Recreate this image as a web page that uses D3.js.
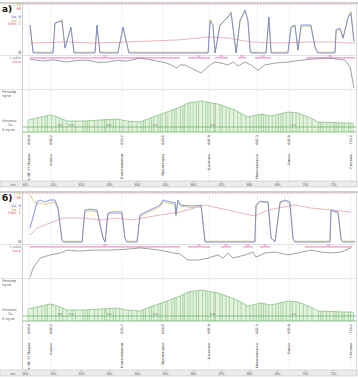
<!DOCTYPE html>
<html>
<head>
<meta charset="utf-8">
<script src="https://cdn.jsdelivr.net/npm/d3@7"></script>
<style>
  body { margin: 0; background: #fff; }
  svg { display: block; font-family: "DejaVu Sans", sans-serif; }
</style>
</head>
<body>
<svg id="vis" width="358" height="378"></svg>
<script>
// ---- data ----
const tickKm = [600, 610, 620, 630, 640, 650, 660, 670, 680, 690, 700, 710];

const stationKm = [601.4, 609.3, 634.6, 649.3, 665.7, 682.9, 694.3, 716.4];
const stationNames = ["ст. НГ 77 Падин", "Азовск", "Каменоломни", "Пролетарка", "Шахтная", "Новочеркасск", "Лихая", "Степная"];
const stationPk = ["600.0", "608.2", "633.7", "648.5", "665.0", "682.3", "693.8", "716.2"];

// profile of the track (same for both runs)
const profileKm = [601.1, 608.9, 610.7, 615.0, 620.7, 626.8, 632.9, 636.4, 641.1, 644.6, 650.7, 655.4, 658.2, 662.9, 668.9, 675.0, 679.6, 684.3, 687.9, 693.9, 697.5, 702.1, 704.6, 714.3, 717.1];
const profileH = [60, 85, 80, 55, 55, 60, 65, 55, 50, 70, 100, 125, 145, 155, 140, 110, 75, 90, 80, 100, 95, 70, 50, 45, 45];
const elementKm = [601.1, 603.0, 604.5, 606.0, 607.2, 608.0, 609.5, 611.0, 612.3, 613.5, 615.0, 616.8, 618.0, 620.7, 621.5, 622.3, 623.0, 624.8, 626.0, 627.5, 628.4, 629.0, 630.3, 631.5, 632.4, 633.8, 635.0, 636.9, 638.2, 640.0, 641.5, 642.3, 643.0, 644.4, 645.2, 646.0, 647.5, 648.3, 649.0, 650.2, 651.0, 652.4, 653.3, 654.0, 655.5, 656.4, 657.0, 658.2, 659.0, 660.1, 661.2, 662.0, 663.4, 664.5, 665.3, 666.2, 667.5, 668.0, 669.6, 670.4, 671.8, 673.0, 674.5, 676.0, 677.2, 678.9, 680.3, 681.5, 682.6, 683.5, 684.4, 685.2, 686.0, 687.0, 688.3, 689.6, 690.5, 691.4, 692.2, 693.3, 694.6, 695.5, 696.8, 698.0, 699.4, 700.8, 702.5, 704.8, 705.6, 706.4, 707.7, 708.9, 710.3, 711.1, 712.0, 713.2, 714.0, 715.5, 716.3, 717.3];
const slopeKm = [612.5, 616.5, 630.0, 646.5, 667.0, 696.0];
const slopeText = ["3.6", "5.0", "3.0", "2.4", "1.8", "2.1"];

// run a)
const speedBlueA = [[601.8,70],[602.9,0],[610.0,0],[610.7,75],[613.2,80],[614.3,12],[616.4,65],[617.5,0],[625.0,0],[625.7,70],[626.8,0],[633.2,0],[635.0,65],[637.1,0],[665.4,0],[666.1,80],[667.1,70],[667.9,0],[669.6,70],[672.5,90],[673.6,100],[675.4,0],[676.8,82],[678.6,108],[679.6,82],[680.4,8],[680.7,0],[686.1,0],[687.1,90],[687.9,0],[693.9,0],[695.0,65],[696.4,70],[697.5,8],[698.6,70],[700.4,70],[702.1,70],[703.6,15],[704.6,0],[710.7,0],[711.1,58],[712.5,62],[713.6,38],[715.4,88],[716.4,100],[717.5,28]];
const speedYellowA = [[601.8,68],[602.9,2],[610.0,2],[610.7,72],[613.2,84],[614.3,14],[616.4,62],[617.5,2],[625.0,2],[625.7,66],[626.8,2],[633.2,2],[635.0,62],[637.1,2],[665.4,2],[666.1,84],[667.1,74],[667.9,2],[669.6,66],[672.5,92],[673.6,104],[675.4,2],[676.8,78],[678.6,104],[679.6,84],[680.4,6],[680.7,2],[686.1,2],[687.1,86],[687.9,2],[693.9,2],[695.0,62],[696.4,68],[697.5,6],[698.6,66],[700.4,68],[702.1,66],[703.6,12],[704.6,2],[710.7,2],[711.1,55],[712.5,60],[713.6,36],[715.4,92],[716.4,104],[717.5,30]];
const tempA = [[601.8,25],[615.0,27.5],[624.3,25],[636.4,27.5],[655.4,33],[665.4,40],[672.5,37.5],[680.7,27.5],[690.4,25],[702.1,27.5],[710.7,27.5],[714.3,25],[717.9,25]];
const currentA = [[601.8,90],[606.4,84],[610.0,88],[615.0,81],[618.5,86],[622.1,87],[626.0,80],[629.3,81],[633.0,86],[636.4,84],[641.1,94],[645.7,87],[650.7,78],[654.3,62],[655.4,72],[657.1,72],[660.7,56],[662.9,47],[666.1,72],[667.9,81],[670.0,78],[672.5,72],[674.3,81],[676.1,69],[678.6,81],[680.7,72],[683.2,56],[685.7,72],[689.3,78],[693.9,81],[698.6,87],[702.1,90],[708.2,94],[714.3,87],[716.1,66],[717.5,0]];
const limitA = [[601.8,655.4],[658.2,666.1],[667.9,672.5],[676.1,679.0],[682.1,687.9],[700.4,717.9]];

// run б)
const speedBlueB = [[601.8,35],[604.3,100],[605.4,105],[607.1,100],[608.9,105],[610.7,105],[611.8,85],[613.2,5],[613.6,0],[620.4,0],[621.4,80],[623.2,82],[625.7,80],[627.9,10],[628.6,0],[629.6,72],[631.1,75],[634.6,75],[635.7,10],[636.4,0],[640.0,0],[641.1,68],[644.6,80],[648.2,92],[649.3,105],[651.8,100],[653.6,98],[653.9,68],[654.6,105],[655.7,92],[659.3,90],[662.9,92],[664.3,0],[682.1,0],[682.5,92],[683.9,102],[686.8,100],[687.9,10],[689.3,0],[691.1,100],[692.9,105],[694.6,100],[695.7,10],[696.4,0],[708.9,0],[709.3,80],[711.8,75],[712.9,5],[713.6,0],[717.9,0]];
const speedYellowB = [[601.8,118],[602.9,104],[604.3,94],[605.4,98],[607.1,94],[608.9,98],[610.7,99],[611.8,80],[613.2,4],[613.6,2],[620.4,2],[621.4,76],[623.2,78],[625.7,76],[627.9,8],[628.6,2],[629.6,68],[631.1,71],[634.6,71],[635.7,8],[636.4,2],[640.0,2],[641.1,64],[644.6,76],[648.2,88],[649.3,100],[651.8,96],[653.6,94],[653.9,64],[654.6,100],[655.7,90],[659.3,86],[662.9,88],[664.3,2],[682.1,2],[682.5,90],[683.9,100],[686.8,98],[687.9,8],[689.3,2],[691.1,98],[692.9,102],[694.6,97],[695.7,8],[696.4,2],[708.9,2],[709.3,76],[711.8,72],[712.9,4],[713.6,2],[717.9,2]];
const tempB = [[601.8,17.5],[604.3,35],[607.9,45],[613.6,60],[620.7,60],[626.8,55],[632.9,60],[638.6,55],[642.1,60],[648.2,67.5],[655.4,75],[664.3,92.5],[682.1,65],[686.8,80],[690.4,85],[696.4,92.5],[702.1,85],[709.3,80],[716.4,75]];
const currentB = [[601.8,0],[602.9,28],[605.4,59],[608.9,69],[612.5,75],[615.0,84],[619.6,81],[624.3,84],[630.4,84],[636.4,87],[641.1,91],[648.2,84],[652.9,75],[655.4,72],[658.2,53],[661.8,53],[665.4,59],[668.9,69],[670.7,59],[672.5,75],[674.3,59],[678.6,69],[681.4,78],[682.5,62],[685.7,75],[689.3,78],[693.9,69],[697.5,75],[702.1,84],[705.7,78],[709.3,75],[712.9,78],[716.4,91]];
const limitB = [[601.8,655.4],[658.2,666.1],[670.0,673.6],[677.9,681.4],[683.9,687.5],[700.0,716.8]];

// ---- drawing ----
const vis = d3.select('#vis');
const xLeft = 23, xRight = 356;
const x = d3.scaleLinear().domain([600, 710]).range([25, 333]);

const drawPanel = (oy, title, blue, yellow, temp, current, limits) => {
  const g = vis.append('g').attr('transform', `translate(0,${oy})`);

  const ySpeed = d3.scaleLinear().domain([0, 120]).range([53, 5]);
  const yCur = d3.scaleLinear().domain([0, 100]).range([88, 56]);
  const yProf = d3.scaleLinear().domain([0, 160]).range([132, 100]);

  // frame
  g.append('line').attr('x1', 0).attr('x2', 358).attr('y1', 3).attr('y2', 3).attr('stroke', '#a0a0a0').attr('stroke-width', 1);
  g.append('line').attr('x1', 22.5).attr('x2', 22.5).attr('y1', 3).attr('y2', 187).attr('stroke', '#b8b8b8').attr('stroke-width', 0.7);
  g.append('line').attr('x1', xRight + 0.5).attr('x2', xRight + 0.5).attr('y1', 3).attr('y2', 187).attr('stroke', '#c8c8c8').attr('stroke-width', 0.6);
  [55, 89].forEach(yy => {
    g.append('line').attr('x1', 0).attr('x2', xRight).attr('y1', yy + 0.5).attr('y2', yy + 0.5)
      .attr('stroke', '#d0d0d0').attr('stroke-width', 0.6);
  });

  // dashed max line at top
  g.append('line').attr('x1', xLeft).attr('x2', xRight).attr('y1', 4.5).attr('y2', 4.5)
    .attr('stroke', '#e09090').attr('stroke-width', 0.6).attr('stroke-dasharray', '1.5,1.5');

  // station grid
  g.selectAll('.sgrid').data(stationKm).enter().append('line')
    .attr('x1', d => x(d)).attr('x2', d => x(d)).attr('y1', 5).attr('y2', 181)
    .attr('stroke', '#cacaca').attr('stroke-width', 0.6).attr('stroke-dasharray', '1,1.5');

  // left labels
  const lab = (t, yy, col, anchor, xx, size) => g.append('text').attr('x', xx).attr('y', yy)
    .attr('text-anchor', anchor).attr('fill', col).attr('font-size', size || 3.6).text(t);
  lab('1.56', 6, '#b8b040', 'end', 21);
  lab('88', 9.5, '#d06060', 'end', 21);
  lab('Vд, В', 18, '#5060d0', 'end', 21);
  lab('Vд, Т', 21.5, '#b0a840', 'end', 21);
  lab('Tвбк, С', 25, '#d06060', 'end', 21);
  lab('0', 54, '#333', 'end', 21, 4.5);
  lab('I, кА/ч', 59, '#555', 'end', 21);
  lab('Vогр', 62.5, '#e050a0', 'end', 21);
  lab('Рельеф', 93, '#555', 'start', 2);
  lab('пути', 96.5, '#555', 'start', 2);
  lab('Уклоны,', 122, '#555', 'start', 2);
  lab('‰', 125.5, '#555', 'start', 8);
  lab('0 пути', 131, '#555', 'start', 2);
  g.append('text').attr('x', 2).attr('y', 12).attr('font-size', 9).attr('font-weight', 'bold')
    .attr('fill', '#111').text(title);

  // speed lines
  const lineS = d3.line().x(d => x(d[0])).y(d => ySpeed(d[1]));
  g.append('path').datum(temp).attr('d', lineS).attr('fill', 'none').attr('stroke', '#e39595').attr('stroke-width', 0.7);
  g.append('path').datum(yellow).attr('d', lineS).attr('fill', 'none').attr('stroke', '#cbc56a').attr('stroke-width', 0.8);
  g.append('path').datum(blue).attr('d', lineS).attr('fill', 'none').attr('stroke', '#6878dc').attr('stroke-width', 0.8);

  // limits and current
  g.selectAll('.lim').data(limits).enter().append('line')
    .attr('x1', d => x(d[0])).attr('x2', d => x(d[1]))
    .attr('y1', yCur(94)).attr('y2', yCur(94))
    .attr('stroke', '#e468b4').attr('stroke-width', 0.9);
  g.selectAll('.limt').data(limits).enter().append('text')
    .attr('x', d => x((d[0] + d[1]) / 2)).attr('y', yCur(94) - 0.8)
    .attr('text-anchor', 'middle').attr('font-size', 2.8).attr('fill', '#e060b0').text('60');
  const lineC = d3.line().x(d => x(d[0])).y(d => yCur(d[1]));
  g.append('path').datum(current).attr('d', lineC).attr('fill', 'none').attr('stroke', '#777').attr('stroke-width', 0.7);

  // profile
  const prof = profileKm.map((k, i) => [k, profileH[i]]);
  const hAt = k => {
    const i = d3.bisectLeft(profileKm, k);
    if (i <= 0) return profileH[0];
    if (i >= profileKm.length) return profileH[profileH.length - 1];
    const t = (k - profileKm[i - 1]) / (profileKm[i] - profileKm[i - 1]);
    return profileH[i - 1] + t * (profileH[i] - profileH[i - 1]);
  };
  const area = d3.area().x(d => x(d[0])).y0(yProf(0)).y1(d => yProf(d[1]));
  g.append('path').datum(prof).attr('d', area).attr('fill', '#e4f2de').attr('stroke', 'none');
  g.selectAll('.el').data(elementKm).enter().append('line')
    .attr('x1', d => x(d)).attr('x2', d => x(d))
    .attr('y1', yProf(0)).attr('y2', d => yProf(hAt(d)))
    .attr('stroke', '#80c27e').attr('stroke-width', 0.6);
  g.append('path').datum(prof).attr('d', d3.line().x(d => x(d[0])).y(d => yProf(d[1])))
    .attr('fill', 'none').attr('stroke', '#80bc80').attr('stroke-width', 0.7);
  [127, 132].forEach(yy => {
    g.append('line').attr('x1', xLeft).attr('x2', xRight).attr('y1', yy).attr('y2', yy)
      .attr('stroke', '#62ac62').attr('stroke-width', 0.7);
  });
  g.selectAll('.sl').data(slopeKm).enter().append('text')
    .attr('x', d => x(d)).attr('y', 125.5).attr('text-anchor', 'middle')
    .attr('font-size', 2.8).attr('fill', '#555').text((d, i) => slopeText[i]);

  // stations
  g.selectAll('.spk').data(stationKm).enter().append('text')
    .attr('transform', d => `translate(${x(d) + 1},135) rotate(-90)`)
    .attr('text-anchor', 'end').attr('font-size', 3.4).attr('fill', '#444')
    .text((d, i) => stationPk[i]);
  g.selectAll('.snm').data(stationKm).enter().append('text')
    .attr('transform', d => `translate(${x(d) + 1},154) rotate(-90)`)
    .attr('text-anchor', 'end').attr('font-size', 3.4).attr('fill', '#444')
    .text((d, i) => stationNames[i]);

  // bottom axis
  g.append('rect').attr('x', 0).attr('y', 181).attr('width', 357).attr('height', 6)
    .attr('fill', '#ececec').attr('stroke', '#b4b4b4').attr('stroke-width', 0.5);
  const ax = g.append('g').attr('transform', 'translate(0,181)')
    .call(d3.axisBottom(x).tickValues(tickKm).tickSize(1.5).tickFormat(d3.format('d')));
  ax.select('.domain').remove();
  ax.selectAll('line').attr('stroke', '#888').attr('stroke-width', 0.5);
  ax.selectAll('text').attr('font-size', 3.2).attr('fill', '#555').attr('y', 2.5).attr('dy', '0.71em');
  g.append('text').attr('x', 13).attr('y', 185.5).attr('font-size', 3.2).attr('fill', '#555')
    .attr('text-anchor', 'middle').text('Км');
};

drawPanel(0, 'а)', speedBlueA, speedYellowA, tempA, currentA, limitA);
drawPanel(189, 'б)', speedBlueB, speedYellowB, tempB, currentB, limitB);
</script>
</body>
</html>
